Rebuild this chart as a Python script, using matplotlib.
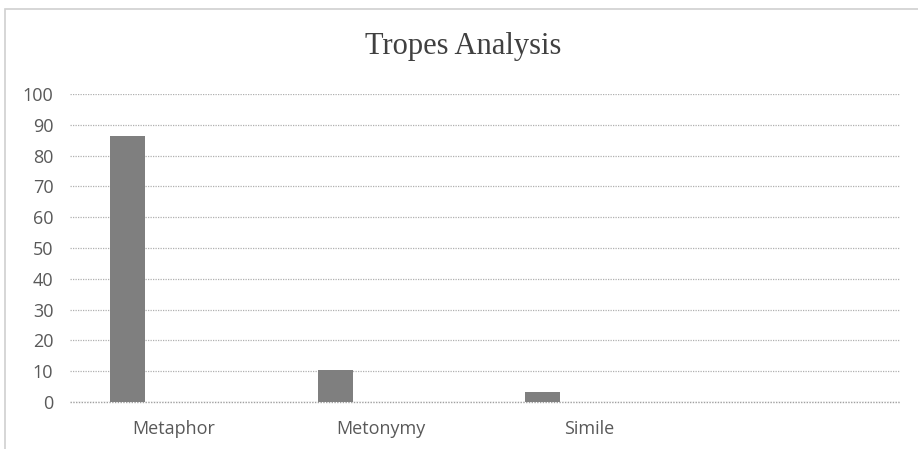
import numpy as np
import matplotlib.pyplot as plt
from matplotlib.patches import Rectangle

# Данные
categories = ['Metaphor', 'Metonymy', 'Simile', '']
values = [86.5, 10.4, 3.4, 0]
yticks = [0, 10, 20, 30, 40, 50, 60, 70, 80, 90, 100]

fig = plt.figure(figsize=(9.18, 4.49), dpi=100)
ax = fig.add_axes([0.0763, 0.1047, 0.9041, 0.6859])

x = np.arange(len(categories))
ax.bar(x - 0.222, values, width=0.17, color='#7f7f7f', zorder=3)

ax.set_xlim(-0.5, len(categories) - 0.5)
ax.set_ylim(0, 100)
ax.set_yticks(yticks)
ax.set_xticks(x)
ax.set_xticklabels(categories)

for s in ax.spines.values():
    s.set_visible(False)
ax.grid(axis='y', color='#b0b0b0', linestyle=(0, (1, 1)), linewidth=0.9, zorder=0)
ax.axhline(0, color='#a0a0a0', linestyle=(0, (1, 1)), linewidth=1.0, zorder=2, clip_on=False)
ax.tick_params(axis='both', length=0, colors='#595959', labelsize=13)
ax.tick_params(axis='y', pad=12)
ax.tick_params(axis='x', pad=13)
for t in ax.get_xticklabels() + ax.get_yticklabels():
    t.set_fontfamily('Open Sans')

fig.text(0.505, 0.897, 'Tropes Analysis', ha='center', va='center',
         fontsize=22, family='Liberation Serif', color='#404040')

# рамка
fig.patches.append(Rectangle((0.005, -0.01), 1.2, 0.99, transform=fig.transFigure,
                             fill=False, edgecolor='#d0d0d0', linewidth=1.2))

fig.savefig('out.png', dpi=100)
